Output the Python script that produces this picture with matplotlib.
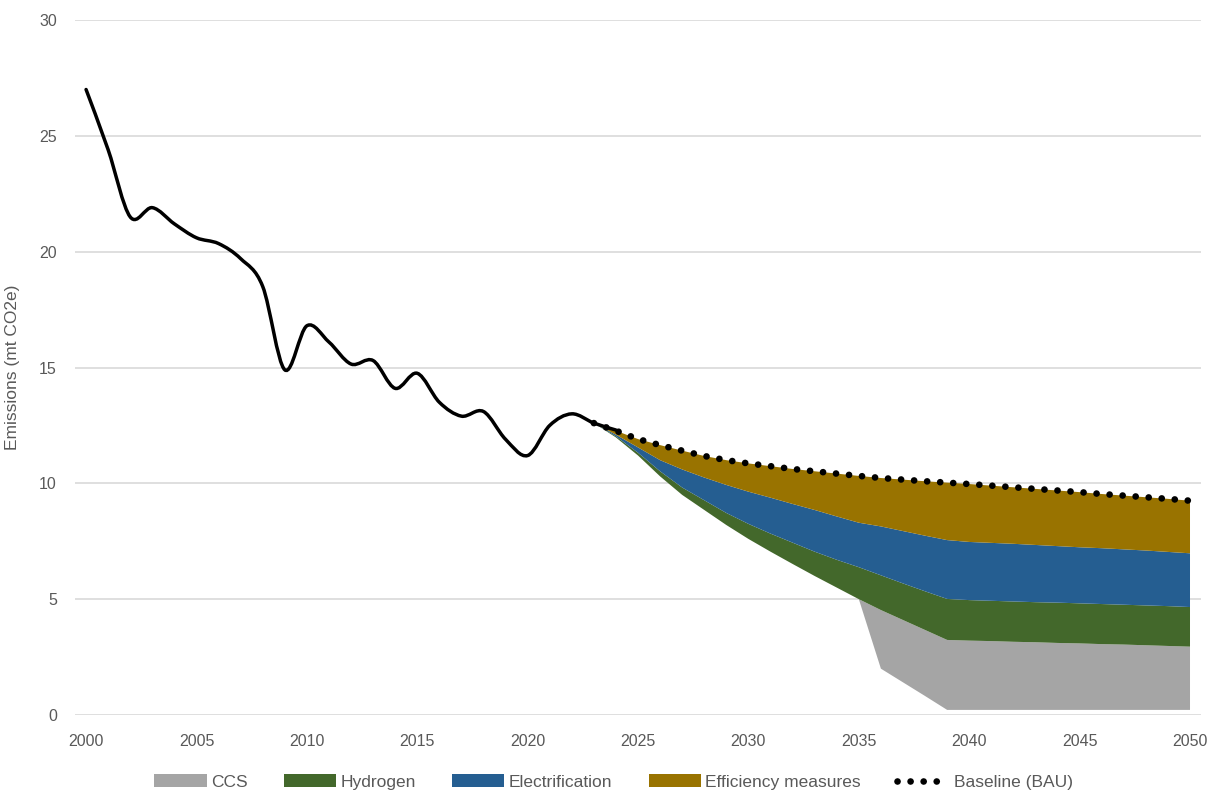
import numpy as np
import matplotlib.pyplot as plt
from matplotlib.path import Path
from matplotlib.patches import PathPatch

plt.rcParams['font.family'] = ['Liberation Sans', 'DejaVu Sans']

# historical emissions (mt CO2e)
hist_years = list(range(2000, 2025))
hist_values = [27.0, 24.4, 21.5, 21.9, 21.2, 20.6, 20.35, 19.7, 18.5, 14.9,
               16.8, 16.1, 15.15, 15.3, 14.1, 14.75, 13.5, 12.9, 13.1, 11.9,
               11.2, 12.5, 13.0, 12.6, 12.3]

# projections 2023-2050
proj_years = list(range(2023, 2051))
baseline = [12.6, 12.27, 11.91, 11.65, 11.41, 11.18, 11.0, 10.86, 10.74, 10.62,
            10.52, 10.42, 10.32, 10.23, 10.16, 10.09, 10.03, 9.97, 9.90, 9.83,
            9.76, 9.69, 9.62, 9.54, 9.47, 9.40, 9.33, 9.25]
efficiency = [0.0, 0.17, 0.36, 0.65, 0.81, 0.93, 1.07, 1.22, 1.36, 1.51,
              1.67, 1.85, 2.02, 2.09, 2.22, 2.35, 2.48, 2.50, 2.47, 2.44,
              2.42, 2.40, 2.38, 2.34, 2.32, 2.30, 2.29, 2.27]
electrification = [0.0, 0.07, 0.23, 0.48, 0.78, 0.98, 1.21, 1.39, 1.55, 1.67,
                   1.80, 1.87, 1.92, 2.11, 2.26, 2.40, 2.54, 2.51, 2.50, 2.49,
                   2.47, 2.44, 2.42, 2.41, 2.39, 2.37, 2.34, 2.32]
hydrogen = [0.0, 0.05, 0.12, 0.22, 0.32, 0.42, 0.52, 0.65, 0.78, 0.92,
            1.05, 1.20, 1.38, 1.50, 1.58, 1.67, 1.77, 1.75, 1.74, 1.74,
            1.73, 1.74, 1.73, 1.73, 1.72, 1.72, 1.72, 1.71]
ccs = [0.0, 0.0, 0.0, 0.0, 0.0, 0.0, 0.0, 0.0, 0.0, 0.0,
       0.0, 0.0, 0.0, 2.53, 2.69, 2.85, 3.02, 2.99, 2.97, 2.94,
       2.92, 2.89, 2.87, 2.84, 2.82, 2.79, 2.76, 2.73]

# what is left after all measures (drawn invisible under the stack)
residual = (np.array(baseline) - np.array(efficiency) - np.array(electrification)
            - np.array(hydrogen) - np.array(ccs))

colors = ['#A5A5A5', '#43682B', '#255E91', '#997300']
labels = ['CCS', 'Hydrogen', 'Electrification', 'Efficiency measures']


def smooth_path(x, y):
    # excel-like smoothed line: bezier segments through every point
    verts = [(x[0], y[0])]
    codes = [Path.MOVETO]
    n = len(x)
    for i in range(n - 1):
        a = max(i - 1, 0)
        b = min(i + 2, n - 1)
        c1 = (x[i] + (x[i + 1] - x[a]) / 6, y[i] + (y[i + 1] - y[a]) / 6)
        c2 = (x[i + 1] - (x[b] - x[i]) / 6, y[i + 1] - (y[b] - y[i]) / 6)
        verts += [c1, c2, (x[i + 1], y[i + 1])]
        codes += [Path.CURVE4] * 3
    return Path(verts, codes)


fig = plt.figure(figsize=(12.16, 7.94), dpi=100, facecolor='white')
ax = fig.add_axes([0.0617, 0.0995, 0.926, 0.8753])

ax.stackplot(proj_years, residual, ccs, hydrogen, electrification, efficiency,
             colors=['none'] + colors, labels=['_nolegend_'] + labels,
             linewidth=0, zorder=2)

ax.plot(proj_years, baseline, color='black', linewidth=4.8,
        linestyle=(0, (0.01, 1.95)), dash_capstyle='round',
        label='Baseline (BAU)', zorder=3)

hist = PathPatch(smooth_path(hist_years, hist_values), facecolor='none',
                 edgecolor='black', linewidth=2.5, capstyle='round', zorder=4)
ax.add_patch(hist)

ax.set_xlim(1999.5, 2050.5)
ax.set_ylim(0, 30)
ax.set_xticks(range(2000, 2051, 5))
ax.set_yticks(range(0, 31, 5))
ax.grid(axis='y', color='#D9D9D9', linewidth=1.2, zorder=0)
ax.set_axisbelow(True)
for s in ax.spines.values():
    s.set_visible(False)
ax.tick_params(axis='both', length=0, labelsize=11.5, labelcolor='#595959')
ax.tick_params(axis='y', pad=13)
ax.tick_params(axis='x', pad=14)

ax.set_ylabel('Emissions (mt CO2e)', fontsize=12.5, color='#595959')
ax.yaxis.set_label_coords(-0.049, 0.5)

fig.legend(loc='center', bbox_to_anchor=(0.5045, 0.0151), ncol=5, frameon=False,
           fontsize=12.5, handlelength=3.0, handleheight=0.75, handletextpad=0.25,
           columnspacing=2.1, labelcolor='#595959')

plt.savefig('out.png', dpi=100, facecolor='white')
